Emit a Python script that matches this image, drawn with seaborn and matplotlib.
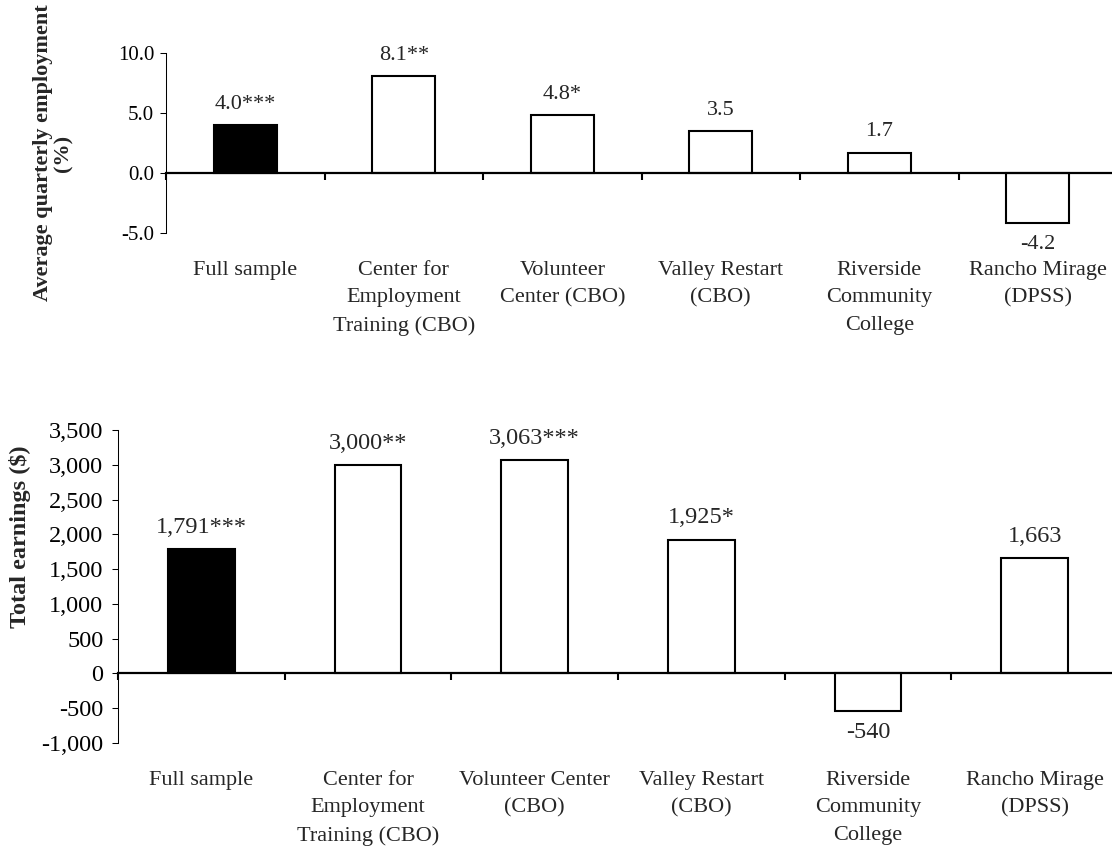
import matplotlib
matplotlib.use("Agg")
import matplotlib.pyplot as plt
import matplotlib.ticker as mticker
import matplotlib.transforms as mtrans
import seaborn as sns
import pandas as pd

# data
sites = ["Full sample", "Center for Employment Training (CBO)", "Volunteer Center (CBO)",
         "Valley Restart (CBO)", "Riverside Community College", "Rancho Mirage (DPSS)"]
emp_vals = [4.0, 8.1, 4.8, 3.5, 1.7, -4.2]
emp_stars = ["***", "**", "*", "", "", ""]
earn_vals = [1791, 3000, 3063, 1925, -540, 1663]
earn_stars = ["***", "**", "***", "*", "", ""]
emp_labels = ["Full sample", "Center for\nEmployment\nTraining (CBO)", "Volunteer\nCenter (CBO)",
              "Valley Restart\n(CBO)", "Riverside\nCommunity\nCollege", "Rancho Mirage\n(DPSS)"]
earn_labels = ["Full sample", "Center for\nEmployment\nTraining (CBO)", "Volunteer Center\n(CBO)",
               "Valley Restart\n(CBO)", "Riverside\nCommunity\nCollege", "Rancho Mirage\n(DPSS)"]
bar_colors = ["black", "white", "white", "white", "white", "white"]

sns.set_style("ticks")
plt.rcParams["font.family"] = ["Liberation Serif", "DejaVu Serif"]
plt.rcParams["axes.unicode_minus"] = False

fig = plt.figure(figsize=(11.12, 8.52), dpi=100)
W, H = 1112, 852
# axes boxes in pixels: left, top, right, bottom
ax1 = fig.add_axes([166 / W, 1 - 233 / H, 951 / W, 180 / H])
ax2 = fig.add_axes([118 / W, 1 - 743 / H, 1000 / W, 313 / H])


def panel(ax, vals, stars, labels, fmt, ylim, yticks, tick_fs, val_fs, pad):
    df = pd.DataFrame({"site": sites, "value": vals})
    sns.barplot(data=df, x="site", y="value", hue="site", palette=bar_colors,
                edgecolor="black", linewidth=1.5, width=0.4, legend=False, ax=ax,
                saturation=1)
    ax.set_xlim(-0.5, len(sites) - 0.5)
    ax.set_ylim(*ylim)
    ax.set_yticks(yticks)
    ax.yaxis.set_major_formatter(mticker.StrMethodFormatter(fmt))
    ax.tick_params(axis="y", labelsize=tick_fs, length=4.5, width=0.75, pad=pad, colors="black")
    ax.set_xlabel("")
    ax.set_ylabel("")

    # x axis sits on zero, ticks between categories
    ax.spines["bottom"].set_position(("data", 0))
    ax.spines["bottom"].set_linewidth(1.6)
    ax.spines["left"].set_linewidth(0.75)
    ax.spines["left"].set_color("black")
    ax.spines["bottom"].set_color("black")
    sns.despine(ax=ax)
    ax.set_xticks([i - 0.5 for i in range(len(sites) + 1)])
    ax.set_xticklabels([])
    ax.tick_params(axis="x", direction="out", length=5, width=1.5, colors="black")

    # category names below the plot area
    trans = mtrans.blended_transform_factory(ax.transData, ax.transAxes)
    for i, lab in enumerate(labels):
        ax.annotate(lab, xy=(i, 0), xycoords=trans, xytext=(0, -20), textcoords="offset points",
                    ha="center", va="top", fontsize=16, linespacing=1.6, annotation_clip=False)

    # value labels
    for i, (v, s) in enumerate(zip(vals, stars)):
        txt = fmt.format(x=v) + s
        off = 8 if v >= 0 else -8
        ax.annotate(txt, xy=(i, v), xytext=(0, off), textcoords="offset points",
                    ha="center", va="bottom" if v >= 0 else "top", fontsize=val_fs)


panel(ax1, emp_vals, emp_stars, emp_labels, "{x:,.1f}", (-5, 10), [-5, 0, 5, 10], 15, 16, 4)
panel(ax2, earn_vals, earn_stars, earn_labels, "{x:,.0f}", (-1000, 3500),
      list(range(-1000, 3501, 500)), 17.5, 17.5, 6)

fig.text(53 / W, 1 - 153 / H, "Average quarterly employment\n(%)", rotation=90,
         ha="center", va="center", fontsize=16, fontweight="bold", linespacing=1.0)
fig.text(20 / W, 1 - 537 / H, "Total earnings ($)", rotation=90,
         ha="center", va="center", fontsize=17.5, fontweight="bold")

fig.savefig("out.png", dpi=100)
